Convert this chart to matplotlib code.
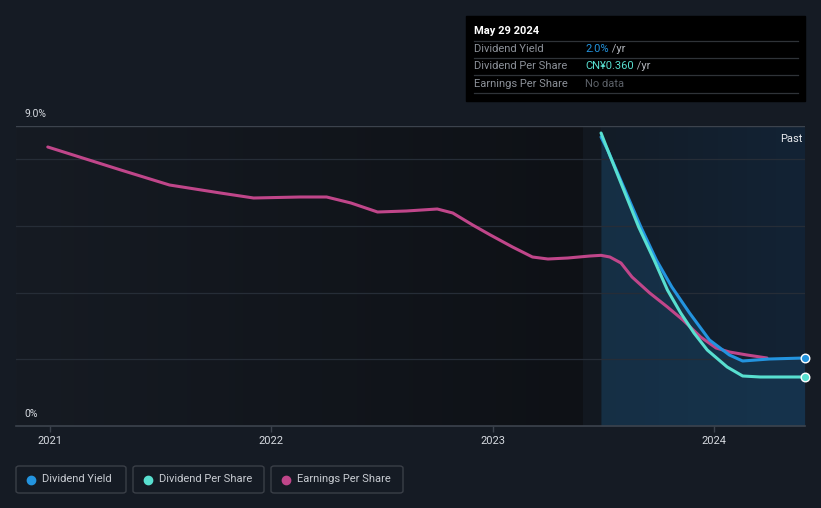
import matplotlib
matplotlib.use("Agg")
import matplotlib.pyplot as plt
import numpy as np
from matplotlib.patches import FancyBboxPatch, Rectangle
from matplotlib.colors import LinearSegmentedColormap

plt.rcParams['font.family'] = ['Roboto', 'DejaVu Sans']

# ---- data (x in fractional years, y in chart units where axis spans 0..9 %) ----
eps_t = [2020.99, 2021.32, 2021.54, 2021.77, 2021.92, 2022.13, 2022.25, 2022.36,
         2022.48, 2022.61, 2022.75, 2022.82, 2022.91, 2022.99, 2023.09, 2023.18,
         2023.25, 2023.34, 2023.44, 2023.49, 2023.53, 2023.58, 2023.63, 2023.71,
         2023.79, 2023.86, 2023.94, 2024.01, 2024.07, 2024.15, 2024.24]
eps_v = [8.37, 7.68, 7.23, 6.99, 6.84, 6.87, 6.87, 6.69,
         6.42, 6.45, 6.51, 6.39, 6.03, 5.73, 5.37, 5.07,
         5.01, 5.04, 5.10, 5.12, 5.07, 4.89, 4.47, 3.99,
         3.57, 3.18, 2.67, 2.34, 2.22, 2.13, 2.04]

dy_t = [2023.49, 2023.52, 2023.67, 2023.74, 2023.81, 2023.89, 2023.98,
        2024.07, 2024.13, 2024.25, 2024.41]
dy_v = [8.67, 8.28, 5.97, 4.98, 4.17, 3.39, 2.58,
        2.13, 1.95, 2.01, 2.04]

dps_t = [2023.49, 2023.52, 2023.58, 2023.66, 2023.73, 2023.79, 2023.85, 2023.91,
         2023.97, 2024.06, 2024.13, 2024.21, 2024.41]
dps_v = [8.79, 8.28, 7.29, 5.97, 4.98, 4.08, 3.39, 2.79,
         2.28, 1.77, 1.50, 1.47, 1.47]

year_ticks = [2021, 2022, 2023, 2024]
year_labels = ["2021", "2022", "2023", "2024"]
y_labels = {0: "0%", 9: "9.0%"}

BG = "#151b24"
fig = plt.figure(figsize=(8.21, 5.08), dpi=100, facecolor=BG)

W, H = 821, 508
def px(x0, y0, x1, y1):
    return [x0 / W, 1 - y1 / H, (x1 - x0) / W, (y1 - y0) / H]

x_left = 2021 + (16 - 50) / 221.3
x_right = 2021 + (805 - 50) / 221.3
past_band = 2021 + (583 - 50) / 221.3
past_start = dy_t[0]

ax = fig.add_axes(px(16, 126, 805, 426))
ax.set_xlim(x_left, x_right)
ax.set_ylim(0, 9)
ax.set_facecolor(BG)

# backgrounds
grad = np.linspace(0, 1, 256).reshape(1, -1)
cmap_l = LinearSegmentedColormap.from_list("l", ["#161b23", "#0e1116"])
ax.imshow(grad, extent=[x_left, past_band, 0, 9], aspect='auto', cmap=cmap_l, zorder=0)
ax.add_patch(Rectangle((past_band, 0), past_start - past_band, 9, color="#121820", zorder=0.5, lw=0))
cmap_r = LinearSegmentedColormap.from_list("r", ["#121c27", "#132335"])
ax.imshow(grad, extent=[past_start, x_right, 0, 9], aspect='auto', cmap=cmap_r, zorder=0.6)

# fill under dividend yield
ax.fill_between(dy_t, dy_v, 0, color="#1a4a6e", alpha=0.42, lw=0, zorder=1)

for g in [2, 4, 6, 8]:
    ax.axhline(g, color="#262d37", lw=0.9, zorder=1.5)
ax.axhline(9, color="#3c434d", lw=1.0, zorder=1.5)

kw = dict(lw=2.2, solid_capstyle='round', solid_joinstyle='round')
ax.plot(eps_t, eps_v, color="#c0468a", zorder=3, **kw)
ax.plot(dy_t, dy_v, color="#2394df", zorder=4, **kw)
ax.plot(dps_t, dps_v, color="#58dfd0", zorder=5, **kw)
ax.scatter([dy_t[-1]], [dy_v[-1]], s=38, color="#2394df", edgecolors="white", linewidths=1.0, zorder=6, clip_on=False)
ax.scatter([dps_t[-1]], [dps_v[-1]], s=38, color="#58dfd0", edgecolors="white", linewidths=1.0, zorder=6, clip_on=False)

for s in ["top", "right", "left"]:
    ax.spines[s].set_visible(False)
ax.spines["bottom"].set_color("#3c434d")
ax.spines["bottom"].set_linewidth(1.2)
ax.set_yticks([])
ax.set_xticks(year_ticks)
ax.set_xticklabels(year_labels, color="#d6dae0", fontsize=8)
ax.tick_params(axis='x', colors="#3c434d", length=4, width=1, pad=3, labelcolor="#d6dae0")

ax.text(0.997, 0.975, "Past", transform=ax.transAxes, ha="right", va="top", color="#e8eaee", fontsize=8, zorder=7)

for v, lab in y_labels.items():
    fig.text(24 / W, 1 - (114 if v == 9 else 414) / H, lab, color="#d6dae0", fontsize=7.5, va="center", ha="left")

# tooltip
fig.patches.append(Rectangle((466 / W, 1 - 101 / H), (805 - 466) / W, 85 / H, transform=fig.transFigure, color="#000000", zorder=10))
fig.text(474 / W, 1 - 31 / H, "May 29 2024", color="#ffffff", fontsize=8, fontweight="bold", va="center", zorder=11)
for yy in [41, 58, 75, 93]:
    fig.add_artist(plt.Line2D([474 / W, 798 / W], [1 - yy / H, 1 - yy / H], transform=fig.transFigure, color="#2f3338", lw=0.9, zorder=11))
rows = [("Dividend Yield", "2.0%", "#2394df", " /yr", 49),
        ("Dividend Per Share", "CN¥0.360", "#58dfd0", " /yr", 66),
        ("Earnings Per Share", "No data", "#5c6168", "", 84)]
for lab, val, col, suf, yy in rows:
    fig.text(474 / W, 1 - yy / H, lab, color="#8c9199", fontsize=8, va="center", zorder=11)
    t = fig.text(585 / W, 1 - yy / H, val, color=col, fontsize=8, va="center", zorder=11)
    if suf:
        fig.canvas.draw()
        bb = t.get_window_extent()
        fig.text(bb.x1 / W, 1 - yy / H, suf, color="#b0b4ba", fontsize=8, va="center", zorder=11)

# legend
legend_items = [("Dividend Yield", "#2394df", 16, 126), ("Dividend Per Share", "#58dfd0", 133, 264),
                ("Earnings Per Share", "#c0468a", 271, 403)]
for lab, col, x0, x1 in legend_items:
    fig.patches.append(FancyBboxPatch((x0 / W, 1 - 493 / H), (x1 - x0) / W, 27 / H, boxstyle="round,pad=0,rounding_size=0.004",
                                      transform=fig.transFigure, facecolor="none", edgecolor="#3a3f47", lw=1.0))
    fig.add_artist(plt.Line2D([(x0 + 15) / W], [1 - 479.5 / H], marker="o", markersize=6, color=col, transform=fig.transFigure))
    fig.text((x0 + 26) / W, 1 - 479.5 / H, lab, color="#c8ccd2", fontsize=8, va="center")

fig.savefig("out.png", dpi=100, facecolor=BG)
